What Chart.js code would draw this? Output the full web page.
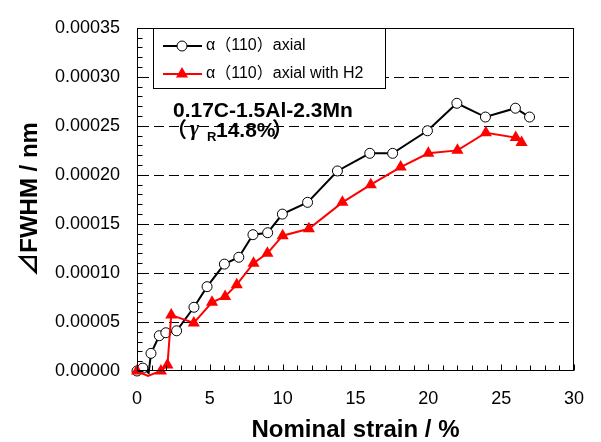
<!DOCTYPE html>
<html>
<head>
<meta charset="utf-8">
<script src="https://cdn.jsdelivr.net/npm/chart.js@4.4.0/dist/chart.umd.min.js"></script>
<style>
  body { margin: 0; background: #fff; }
  canvas { display: block; }
</style>
</head>
<body>
<canvas id="chart" width="601" height="442"></canvas>
<script>
// data
var seriesNames = ['α（110）axial', 'α（110）axial with H2'];
var strainAxial = [0, 0.4, 0.8, 0.96, 1.53, 1.98, 2.72, 3.91, 4.81, 6.0, 6.99, 7.96, 8.97, 9.98, 11.71, 13.76, 15.98, 17.55, 19.94, 21.96, 23.92, 25.98, 26.95];
var fwhmAxial = [0, 0.000003, -0.000002, 0.000018, 0.000036, 0.000039, 0.000041, 0.000065, 0.000086, 0.000109, 0.000116, 0.000139, 0.000141, 0.000160, 0.000172, 0.000204, 0.000222, 0.000222, 0.000245, 0.000273, 0.000259, 0.000268, 0.000259];
var strainH2 = [0, 0.75, 1.64, 2.09, 2.35, 3.9, 5.15, 6.05, 6.85, 8.0, 8.95, 10.0, 11.8, 14.1, 16.05, 18.1, 20.0, 22.0, 23.95, 26.0, 26.4];
var fwhmH2 = [0, -0.000005, 0, 0.000006, 0.000057, 0.000049, 0.00007, 0.000076, 0.000088, 0.00011, 0.00012, 0.000138, 0.000145, 0.000172, 0.00019, 0.000208, 0.000222, 0.000225, 0.000243, 0.000238, 0.000233];
var xTicks = [0, 5, 10, 15, 20, 25, 30];
var yTicks = [0, 0.00005, 0.0001, 0.00015, 0.0002, 0.00025, 0.0003, 0.00035];

var FONT = '"Liberation Sans", Arial, "Noto Sans CJK JP", sans-serif';

function pts(xs, ys) {
  return xs.map(function (x, i) { return { x: x, y: ys[i] }; });
}

function hideNeg(c) {
  return c.raw && c.raw.y < 0 ? 0 : null;
}

function drawMarker(ctx, kind, x, y) {
  ctx.beginPath();
  if (kind === 'circle') {
    ctx.arc(x, y, 5, 0, Math.PI * 2);
    ctx.fillStyle = '#fff';
    ctx.fill();
    ctx.lineWidth = 1;
    ctx.strokeStyle = '#000';
    ctx.stroke();
  } else {
    var r = 7;
    ctx.moveTo(x, y - r);
    ctx.lineTo(x + r * Math.sin(2 * Math.PI / 3), y - r * Math.cos(2 * Math.PI / 3));
    ctx.lineTo(x + r * Math.sin(4 * Math.PI / 3), y - r * Math.cos(4 * Math.PI / 3));
    ctx.closePath();
    ctx.fillStyle = '#f00';
    ctx.fill();
  }
}

var extras = {
  id: 'extras',
  beforeDatasetsDraw: function (chart) {
    // dashed horizontal grid
    var ctx = chart.ctx, a = chart.chartArea, ys = chart.scales.y;
    ctx.save();
    ctx.strokeStyle = '#000';
    ctx.lineWidth = 1;
    ctx.setLineDash([10, 5]);
    ctx.beginPath();
    yTicks.forEach(function (v) {
      if (v <= 0 || v >= ys.max - 1e-9) return;
      var py = Math.round(ys.getPixelForValue(v)) + 0.5;
      ctx.moveTo(a.left + 2, py);
      ctx.lineTo(a.right, py);
    });
    ctx.stroke();
    ctx.restore();
  },
  afterDatasetsDraw: function (chart) {
    var ctx = chart.ctx, a = chart.chartArea;
    var xs = chart.scales.x, ys = chart.scales.y;
    ctx.save();
    ctx.strokeStyle = '#000';
    ctx.lineWidth = 1;
    ctx.setLineDash([]);

    // frame
    var l = Math.round(a.left) + 0.5, r = Math.round(a.right) - 0.5;
    var t = Math.round(a.top) + 0.5, b = Math.round(a.bottom) - 0.5;
    ctx.strokeRect(l, t, r - l, b - t);

    // inside ticks
    ctx.beginPath();
    for (var i = 0; i <= 35; i++) {
      var py = Math.round(ys.getPixelForValue(i * 0.00001)) + 0.5;
      ctx.moveTo(l, py);
      ctx.lineTo(l + (i % 5 === 0 ? 6 : 5), py);
    }
    for (var j = 0; j <= 30; j++) {
      var px = Math.round(xs.getPixelForValue(j)) + 0.5;
      ctx.moveTo(px, b);
      ctx.lineTo(px, b - (j % 5 === 0 ? 6 : 5));
    }
    ctx.stroke();

    // legend box
    ctx.fillStyle = '#fff';
    ctx.fillRect(153.5, 28.5, 232, 60);
    ctx.strokeRect(153.5, 28.5, 232, 60);
    var rows = [
      { y: 46, color: '#000', kind: 'circle' },
      { y: 74, color: '#f00', kind: 'triangle' }
    ];
    rows.forEach(function (row, k) {
      ctx.beginPath();
      ctx.strokeStyle = row.color;
      ctx.lineWidth = 2;
      ctx.moveTo(163, row.y);
      ctx.lineTo(202, row.y);
      ctx.stroke();
      drawMarker(ctx, row.kind, 182, row.y);
      ctx.fillStyle = '#000';
      ctx.font = '16px ' + FONT;
      ctx.textBaseline = 'middle';
      ctx.textAlign = 'left';
      ctx.fillText(seriesNames[k], 206, row.y);
    });

    // annotation
    ctx.fillStyle = '#000';
    ctx.textBaseline = 'alphabetic';
    ctx.font = 'bold 21px ' + FONT;
    ctx.fillText('0.17C-1.5Al-2.3Mn', 173, 117);
    ctx.fillText('（', 166, 137);
    ctx.font = 'italic bold 22px "Liberation Serif", serif';
    ctx.fillText('γ', 190, 135);
    ctx.font = 'bold 13px ' + FONT;
    ctx.fillText('R', 207, 141);
    ctx.font = 'bold 21px ' + FONT;
    ctx.fillText('14.8%', 216, 137);
    ctx.fillText('）', 272, 137);
    ctx.restore();
  }
};

new Chart(document.getElementById('chart'), {
  type: 'line',
  data: {
    datasets: [
      {
        label: seriesNames[0],
        data: pts(strainAxial, fwhmAxial),
        borderColor: '#000',
        borderWidth: 2,
        pointStyle: 'circle',
        pointRadius: function (c) { var h = hideNeg(c); return h === null ? 5 : h; },
        pointBackgroundColor: '#fff',
        pointBorderColor: '#000',
        pointBorderWidth: 1,
        tension: 0,
        clip: false,
        order: 1
      },
      {
        label: seriesNames[1],
        data: pts(strainH2, fwhmH2),
        borderColor: '#f00',
        borderWidth: 2,
        pointStyle: 'triangle',
        pointRadius: function (c) { var h = hideNeg(c); return h === null ? 7 : h; },
        pointBackgroundColor: '#f00',
        pointBorderColor: '#f00',
        pointBorderWidth: 0,
        tension: 0,
        clip: false,
        order: 0
      }
    ]
  },
  options: {
    responsive: false,
    devicePixelRatio: 1,
    animation: false,
    layout: { padding: { left: 0, top: 18, right: 19, bottom: 0 } },
    plugins: { legend: { display: false }, tooltip: { enabled: false } },
    scales: {
      x: {
        type: 'linear',
        min: 0, max: 30,
        afterBuildTicks: function (s) { s.ticks = xTicks.map(function (v) { return { value: v }; }); },
        afterFit: function (s) { s.height = 71; },
        grid: { display: false, drawTicks: false },
        border: { display: false },
        ticks: { color: '#000', padding: 17, font: { family: FONT, size: 18 } },
        title: {
          display: true, text: 'Nominal strain / %', color: '#000',
          padding: 0,
          font: { family: FONT, size: 24, weight: 'bold', lineHeight: 1 }
        }
      },
      y: {
        type: 'linear',
        min: 0, max: 0.00035,
        afterBuildTicks: function (s) { s.ticks = yTicks.map(function (v) { return { value: v }; }); },
        afterFit: function (s) { s.width = 137; },
        grid: { display: false, drawTicks: false },
        border: { display: false },
        ticks: {
          color: '#000', padding: 17, font: { family: FONT, size: 18 },
          callback: function (v) { return Number(v).toFixed(5); }
        },
        title: {
          display: true, text: '⊿FWHM / nm', color: '#000',
          padding: { top: 18, bottom: 0 },
          font: { family: FONT, size: 24, weight: 'bold', lineHeight: 1 }
        }
      }
    }
  },
  plugins: [extras]
});
</script>
</body>
</html>
